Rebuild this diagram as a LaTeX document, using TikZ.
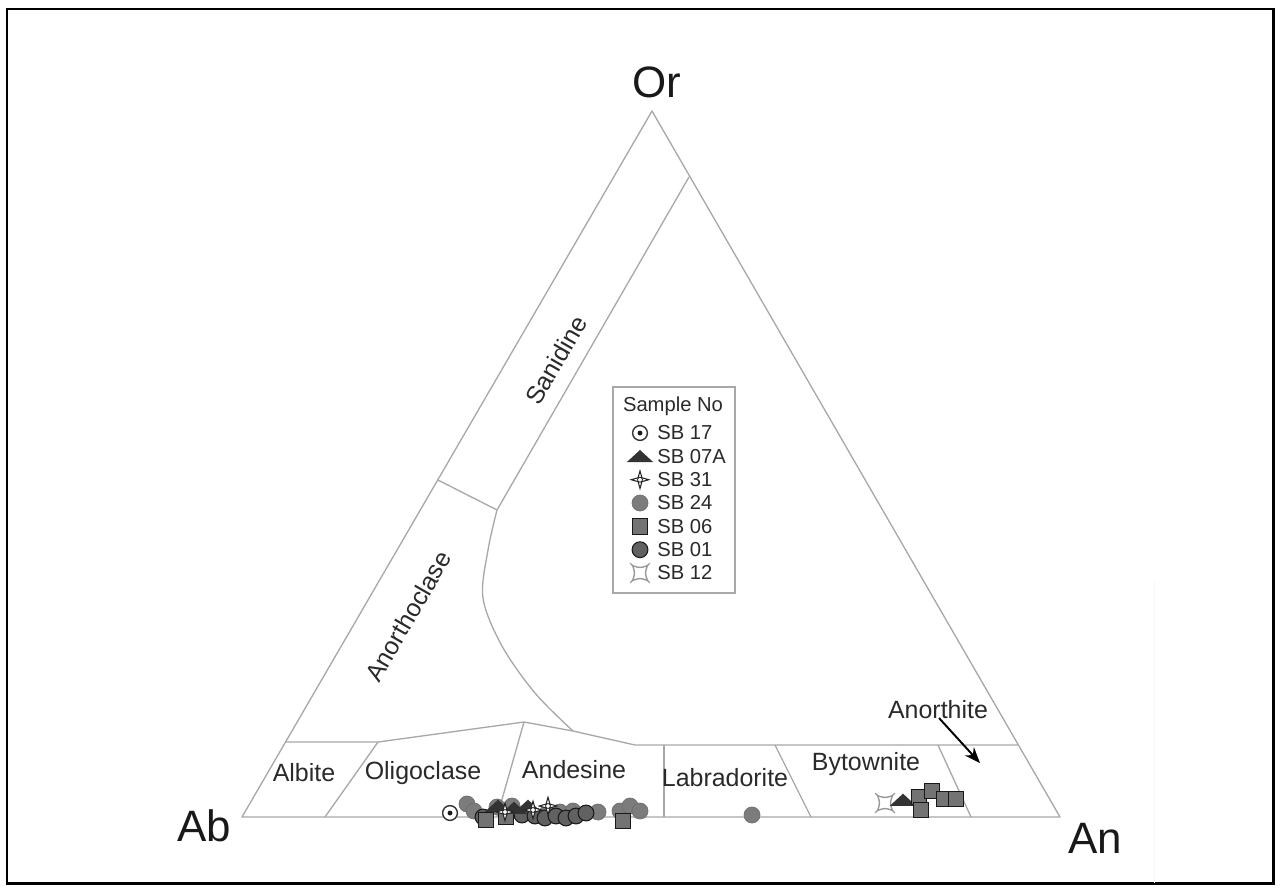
\documentclass[tikz,border=0pt]{standalone}
\usepackage{fontspec}
\setmainfont{Liberation Sans}
\usetikzlibrary{arrows.meta}
\definecolor{edge}{HTML}{A8A8A8}
\definecolor{txt}{HTML}{2A2A2A}
\definecolor{g24}{HTML}{7C7C7C}
\tikzset{
  bnd/.style={draw=edge, line width=0.75pt, line join=round},
  corner/.style={font=\fontsize{25}{28}\selectfont, text=black!90, inner sep=0},
  field/.style={font=\fontsize{14.2}{16}\selectfont, text=txt, inner sep=0},
  legtxt/.style={font=\fontsize{11.5}{13}\selectfont, text=txt, inner sep=0, anchor=west},
  pics/sbA/.style={code={\filldraw[fill=g24, draw=g24!85!black, line width=0.3pt] (0,0) circle (4.6pt);}},
  pics/sbB/.style={code={\filldraw[fill=black!62, draw=black!90, line width=0.6pt] (0,0) circle (4.5pt);}},
  pics/sbC/.style={code={\filldraw[fill=black!55, draw=black!90, line width=0.6pt] (-4.4pt,-4.4pt) rectangle (4.4pt,4.4pt);}},
  pics/sbD/.style={code={\fill[black!80] (-7.5pt,-3.3pt) -- (7.5pt,-3.3pt) -- (0,3.6pt) -- cycle;}},
  pics/sbE/.style={code={\filldraw[fill=white, draw=black!80, line width=0.8pt] (0,0) circle (4.2pt); \fill[black!90] (0,0) circle (1.4pt);}},
  pics/sbF/.style={code={\filldraw[fill=white, draw=black!85, line width=0.6pt] (0,5pt) -- (1.1pt,1.1pt) -- (5pt,0) -- (1.1pt,-1.1pt) -- (0,-5pt) -- (-1.1pt,-1.1pt) -- (-5pt,0) -- (-1.1pt,1.1pt) -- cycle; \draw[black!85, line width=0.5pt] (0,0) circle (1.4pt);}},
  pics/sbG/.style={code={\draw[black!40, line width=0.8pt] (-4.2pt,4.2pt) .. controls (0,2.8pt) .. (4.2pt,4.2pt) .. controls (2.8pt,0) .. (4.2pt,-4.2pt) .. controls (0,-2.8pt) .. (-4.2pt,-4.2pt) .. controls (-2.8pt,0) .. cycle;
     \draw[black!40, line width=0.7pt] (-4.2pt,4.2pt) -- (-5.6pt,5.6pt) (4.2pt,4.2pt) -- (5.6pt,5.6pt) (4.2pt,-4.2pt) -- (5.6pt,-5.6pt) (-4.2pt,-4.2pt) -- (-5.6pt,-5.6pt);}},
}
\begin{document}
\begin{tikzpicture}[x=0.02cm, y=-0.02cm]
\useasboundingbox (0,0) rectangle (1281,890);
\fill[white] (0,0) rectangle (1281,890);
% outer frame
\draw[black, line width=1.7pt] (7,9) rectangle (1273,883);
% faint scan line
\draw[black!3, line width=0.4pt] (1154,580) -- (1154,883);

% vertices
\coordinate (Or) at (652,111);
\coordinate (Ab) at (242,817);
\coordinate (An) at (1060,817);
% boundary points
\coordinate (s1) at (689,177);
\coordinate (s2) at (497,510);
\coordinate (a1) at (438,480);
\coordinate (b1) at (285,742);
\coordinate (b2) at (378,742);
\coordinate (b3) at (524,722);
\coordinate (b4) at (573,731);
\coordinate (b5) at (635,745);
\coordinate (b6) at (1018,745);
\coordinate (d1) at (325,817);
\coordinate (d2) at (497,817);
\coordinate (c3) at (664,745);
\coordinate (d3) at (664,817);
\coordinate (c4) at (775,745);
\coordinate (d4) at (811,817);
\coordinate (c5) at (938,745);
\coordinate (d5) at (971,817);

% triangle
\draw[bnd] (Ab) -- (Or) -- (An) -- cycle;
% field boundaries
\draw[bnd] (s1) -- (s2);
\draw[bnd] (a1) -- (s2);
\draw[bnd] plot[smooth, tension=0.55] coordinates {(497,510) (488,550) (483,598) (502,646) (535,693) (573,731)};
\draw[bnd] (b1) -- (b2) -- (b3) -- (b4) -- (b5) -- (b6);
\draw[bnd] (b2) -- (d1);
\draw[bnd] (b3) -- (d2);
\draw[bnd] (c3) -- (d3);
\draw[bnd] (c4) -- (d4);
\draw[bnd] (c5) -- (d5);

% corner labels
\node[corner] (lOr) at (657,82) {Or};
\node[corner] (lAb) at (204,826) {Ab};
\node[corner] (lAn) at (1095,838) {An};

% field labels
\node[field, rotate=60] (lSan) at (556,360) {Sanidine};
\node[field, rotate=60] (lAno) at (408,616) {Anorthoclase};
\node[field] (lAlb) at (304,773) {Albite};
\node[field] (lOli) at (423,773) {Oligoclase};
\node[field] (lAnd) at (574,770) {Andesine};
\node[field] (lLab) at (725,778) {Labradorite};
\node[field] (lByt) at (866,764) {Bytownite};
\node[field] (lAnt) at (938,710) {Anorthite};
\coordinate (arrS) at (939,718);
\coordinate (arrE) at (980,763);
\draw[black, line width=1.1pt, -{Stealth[length=9pt,width=7pt]}] (arrS) -- (arrE);

% legend
\draw[edge, line width=0.8pt] (613,387) rectangle (735,593);
\node[font=\fontsize{11.5}{13}\selectfont, text=txt, inner sep=0] (ltitle) at (673,406) {Sample No};
\pic at (640,433) {sbE}; \node[legtxt] (l17) at (657,433) {SB 17};
\pic at (640,456.3) {sbD}; \node[legtxt] (l07) at (657,456.3) {SB 07A};
\pic at (640,479.7) {sbF}; \node[legtxt] (l31) at (657,479.7) {SB 31};
\pic at (640,503) {sbA}; \node[legtxt] (l24) at (657,503) {SB 24};
\pic at (640,526.3) {sbC}; \node[legtxt] (l06) at (657,526.3) {SB 06};
\pic at (640,549.7) {sbB}; \node[legtxt] (l01) at (657,549.7) {SB 01};
\pic at (640,573) {sbG}; \node[legtxt] (l12) at (657,573) {SB 12};

% data: left cluster
\foreach \p in {(467,804),(474,811),(497,807),(512,806),(548,812),(560,812),(573,811),(598,812),(620,811),(630,806),(640,811),(752,815)}
  \pic at \p {sbA};
\foreach \p in {(483,817),(522,815),(535,816),(545,818),(556,816),(566,818),(576,816),(586,813)}
  \pic at \p {sbB};
\foreach \p in {(486,820),(506,817),(623,821)}
  \pic at \p {sbC};
\foreach \p in {(498,806),(514,808),(528,806)}
  \pic at \p {sbD};
\foreach \p in {(505,812),(533,810),(548,806)}
  \pic at \p {sbF};
\pic at (450,813) {sbE};

% data: right cluster
\pic at (885,803) {sbG};
\pic at (903,800) {sbD};
\foreach \p in {(919,797),(932,791),(921,810),(944,799),(956,799)}
  \pic at \p {sbC};
\end{tikzpicture}
\end{document}
